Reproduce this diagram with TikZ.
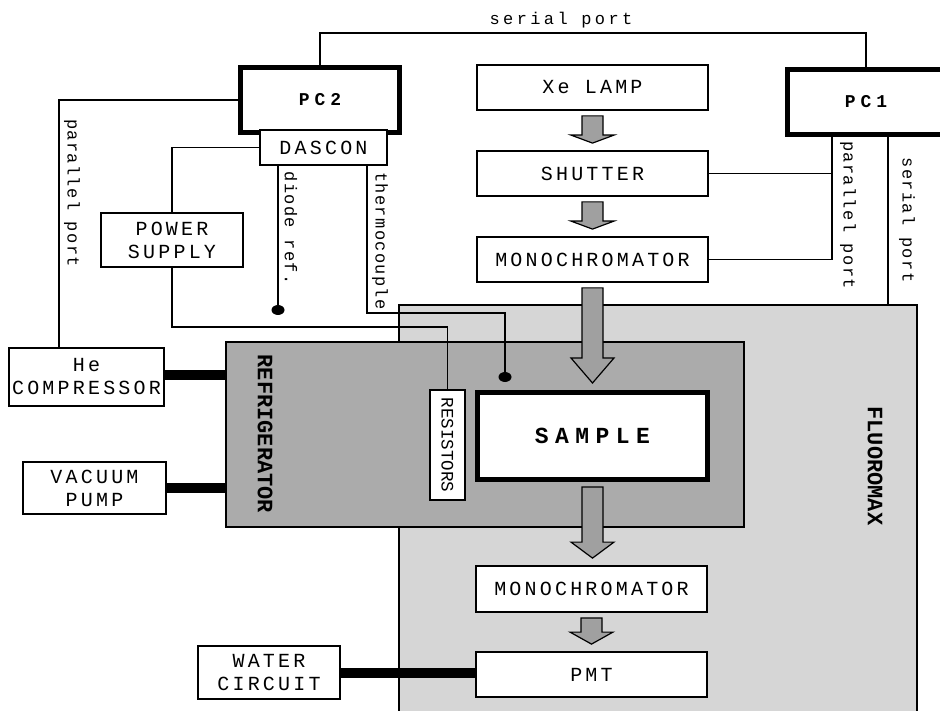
\documentclass[tikz,border=0pt]{standalone}
\usepackage{fontspec}
\usetikzlibrary{calc,shapes.geometric}
\setmonofont{Liberation Mono}
\newfontfamily\boxfont[LetterSpace=16]{Liberation Mono}
\newfontfamily\tagfont[LetterSpace=8]{Liberation Mono}
\newfontfamily\widetagfont[LetterSpace=20]{Liberation Mono}
\newfontfamily\headfont[LetterSpace=28]{Liberation Mono}
\definecolor{fluor}{HTML}{D6D6D6}
\definecolor{fridge}{HTML}{ABABAB}
\definecolor{beamgray}{HTML}{A0A0A0}
% fat optical arrow: source, target, head length
\newcommand{\beam}[3]{%
  \filldraw[beam] let \p1=(#1.south), \p2=(#2.north) in
    ({\x1-10.5pt},{\y1-5pt}) -- ({\x1+10.5pt},{\y1-5pt}) -- ({\x1+10.5pt},{\y2+7pt+#3})
    -- ({\x1+21.5pt},{\y2+7pt+#3}) -- ({\x1},{\y2+7pt}) -- ({\x1-21.5pt},{\y2+7pt+#3})
    -- ({\x1-10.5pt},{\y2+7pt+#3}) -- cycle;}
\tikzset{
  box/.style={draw,line width=1.8pt,fill=white,align=center,inner sep=0pt,font=\boxfont\fontsize{20}{23}\selectfont},
  pcbox/.style={box,line width=5pt,font=\headfont\bfseries\fontsize{18}{20}\selectfont},
  samplebox/.style={box,line width=5pt,font=\headfont\bfseries\fontsize{23}{25}\selectfont},
  unit/.style={draw,line width=1.5pt,inner sep=0pt},
  unitlabel/.style={rotate=-90,inner sep=0pt,font=\ttfamily\bfseries\fontsize{22}{24}\selectfont},
  tag/.style={rotate=-90,inner sep=0pt,font=\tagfont\fontsize{17}{19}\selectfont},
  wire/.style={line width=1.8pt},
  hose/.style={line width=10pt},
  dot/.style={ellipse,fill=black,minimum width=13pt,minimum height=10pt,inner sep=0pt},
  beam/.style={fill=beamgray,draw=black,line width=1.2pt},
}
\begin{document}
\begin{tikzpicture}[x=1pt,y=-1pt]
\useasboundingbox (0,0) rectangle (940,711);

% housings
\node[unit,fill=fluor,minimum width=518pt,minimum height=410pt] (fluoro) at (658,510) {};
\node[unitlabel] at (875,466) {FLUOROMAX};
\node[unit,fill=fridge,minimum width=518pt,minimum height=185pt] (fridge) at (485,434.5) {};
\node[unitlabel] at (265,434) {REFRIGERATOR};

% computers
\node[pcbox,minimum width=159pt,minimum height=65pt] (pc2) at (320,100) {PC2};
\node[box,minimum width=127pt,minimum height=35pt] (dascon) at (323.5,147.5) {DASCON};
\node[pcbox,minimum width=157pt,minimum height=65pt] (pc1) at (866,102) {PC1};

% optical path
\node[box,minimum width=231pt,minimum height=45pt] (lamp) at (592.5,87.5) {Xe LAMP};
\node[box,minimum width=231pt,minimum height=45pt] (shutter) at (592.5,173.5) {SHUTTER};
\node[box,minimum width=231pt,minimum height=45pt] (mono1) at (592.5,259.5) {MONOCHROMATOR};
\node[samplebox,minimum width=230pt,minimum height=87pt] (sample) at (592.5,436) {SAMPLE};
\node[box,minimum width=231pt,minimum height=46pt] (mono2) at (591.5,589) {MONOCHROMATOR};
\node[box,minimum width=231pt,minimum height=45pt] (pmt) at (591.5,674.5) {PMT};

% auxiliaries
\node[box,rotate=-90,minimum width=110pt,minimum height=35pt,font=\ttfamily\fontsize{17.5}{19}\selectfont] (resist) at (447.5,445) {RESISTORS};
\node[box,minimum width=142pt,minimum height=54pt] (power) at (172,240) {POWER\\SUPPLY};
\node[box,minimum width=155pt,minimum height=58pt] (hecomp) at (86.5,377) {He\\COMPRESSOR};
\node[box,minimum width=143pt,minimum height=52pt] (vacuum) at (94.5,488) {VACUUM\\PUMP};
\node[box,minimum width=142pt,minimum height=53pt] (water) at (269,672.5) {WATER\\CIRCUIT};
\node[dot] (ddot) at (278,310) {};
\node[dot] (tdot) at (505,377) {};

\beam{lamp}{shutter}{8pt}
\beam{shutter}{mono1}{8pt}
\beam{mono1}{sample}{25pt}
\beam{sample}{mono2}{16pt}
\beam{mono2}{pmt}{12pt}

% cables
\coordinate (sbus) at (600,33);
\draw[wire] (pc2.north) |- (sbus) -| (pc1.north);
\node[inner sep=0pt,font=\widetagfont\fontsize{17}{19}\selectfont] at (561,20) {serial port};
\draw[wire] (pc2.west) -| ($(hecomp.north west)+(51,0)$);
\node[tag] at (72,193) {parallel port};
\draw[wire] (dascon.west) -| (power.north);
\draw[wire] (power.south) |- ([yshift=62pt]resist.west) -- (resist.west);
\draw[wire] (dascon.south -| ddot) -- (ddot);
\node[tag] at (291,228) {diode ref.};
\draw[wire] ([xshift=43.5pt]dascon.south) |- ([yshift=64pt]tdot.center) -- (tdot);
\node[tag] at (380,241) {thermocouple};
\draw[wire] (shutter.east) -| ([xshift=-34pt]pc1.south);
\draw[wire] (mono1.east) -| ([xshift=-34pt]pc1.south);
\node[tag] at (848,215) {parallel port};
\draw[wire] ([xshift=22pt]pc1.south) -- ([xshift=22pt]pc1.south |- fluoro.north);
\node[tag] at (907,220) {serial port};

% hoses
\draw[hose] ([yshift=2pt]hecomp.east) -- ([yshift=2pt]hecomp.east -| fridge.west);
\draw[hose] (vacuum.east) -- (vacuum.east -| fridge.west);
\draw[hose] (water.east) -- (water.east -| pmt.west);

\end{tikzpicture}
\end{document}
